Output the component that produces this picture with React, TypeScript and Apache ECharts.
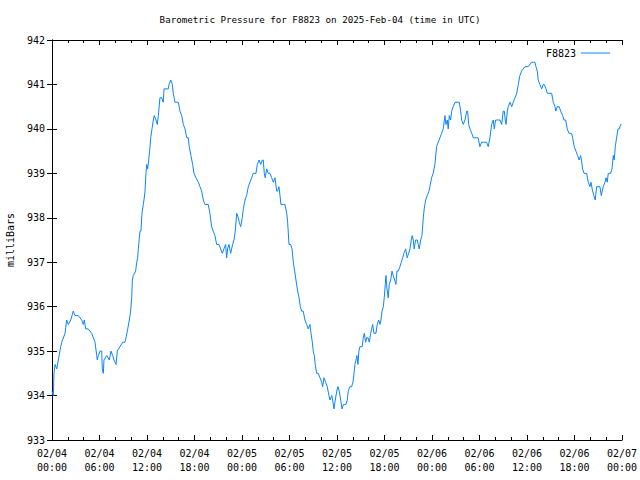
import React, { useEffect, useRef } from "react";
import * as echarts from "echarts";

// [minutes since 2025-02-04 00:00 UTC, pressure in milliBars]
const feb04: [number, number][] = [[0,934.1],[10,934.0],[15,934.5],[23,934.7],[36,934.6],[48,934.8],[66,935.1],[74,935.2],[99,935.4],[111,935.7],[124,935.6],[142,935.7],[161,935.9],[174,935.8],[199,935.8],[225,935.7],[237,935.6],[245,935.7],[255,935.5],[275,935.5],[301,935.4],[326,935.2],[339,934.9],[343,934.8],[351,934.9],[364,935.0],[377,935.0],[381,934.6],[389,934.5],[394,934.8],[415,934.9],[434,934.8],[447,935.0],[460,934.9],[470,934.8],[485,934.7],[495,935.0],[515,935.1],[536,935.2],[553,935.2],[561,935.3],[574,935.5],[586,935.7],[596,935.9],[604,936.2],[609,936.6],[616,936.7],[634,936.8],[642,937.0],[649,937.1],[657,937.4],[667,937.7],[674,937.7],[682,938.1],[692,938.3],[697,938.4],[705,938.6],[712,939.0],[718,939.2],[725,939.1],[733,939.3],[743,939.6],[748,939.8],[758,940.0],[768,940.2],[775,940.3],[788,940.2],[798,940.1],[806,940.3],[818,940.7],[831,940.7],[843,940.6],[849,940.9],[881,940.9],[887,941.0],[900,941.1],[912,941.0],[919,940.8],[932,940.6],[945,940.6],[957,940.6],[970,940.4],[983,940.3],[995,940.1],[1008,940.0],[1021,939.8],[1033,939.8],[1040,939.6],[1053,939.4],[1066,939.2],[1076,939.0],[1091,938.9],[1109,938.8],[1122,938.7],[1134,938.6],[1147,938.4],[1159,938.3],[1184,938.3],[1197,938.1],[1210,937.8],[1222,937.7],[1235,937.6],[1248,937.4],[1266,937.4],[1278,937.3],[1291,937.2],[1303,937.3],[1316,937.4],[1324,937.1],[1331,937.3],[1341,937.4],[1354,937.2],[1369,937.4],[1379,937.5],[1389,937.7],[1400,938.1],[1404,938.1],[1412,938.0],[1419,937.9],[1430,937.8]];

const feb05: [number, number][] = [[1442,938.0],[1450,938.2],[1463,938.4],[1475,938.5],[1488,938.7],[1500,938.8],[1513,938.9],[1525,939.0],[1546,939.0],[1556,939.2],[1569,939.3],[1582,939.2],[1594,939.3],[1601,939.3],[1609,939.0],[1616,938.9],[1627,939.1],[1639,939.0],[1652,939.0],[1665,938.9],[1677,938.8],[1690,938.9],[1703,938.6],[1710,938.6],[1720,938.7],[1728,938.5],[1735,938.3],[1753,938.3],[1766,938.3],[1779,938.1],[1786,937.9],[1796,937.4],[1809,937.4],[1819,937.3],[1829,937.0],[1839,936.8],[1849,936.6],[1859,936.4],[1872,936.2],[1882,936.0],[1892,935.9],[1904,935.9],[1917,935.7],[1930,935.6],[1942,935.5],[1955,935.6],[1963,935.4],[1973,935.2],[1980,935.0],[1988,934.9],[1995,934.7],[2006,934.5],[2018,934.5],[2031,934.4],[2044,934.3],[2051,934.2],[2061,934.4],[2074,934.3],[2086,934.2],[2099,934.0],[2107,933.9],[2120,934.0],[2127,933.9],[2137,933.7],[2147,933.9],[2158,934.1],[2167,934.2],[2177,934.1],[2188,933.9],[2198,933.7],[2208,933.8],[2218,933.8],[2228,933.8],[2238,933.9],[2245,934.1],[2258,934.2],[2271,934.2],[2281,934.3],[2289,934.5],[2296,934.7],[2304,934.8],[2311,934.9],[2319,934.7],[2326,935.0],[2334,935.1],[2351,935.1],[2359,935.3],[2367,935.4],[2377,935.2],[2385,935.3],[2395,935.3],[2405,935.2],[2415,935.4],[2423,935.5],[2430,935.6],[2440,935.4],[2455,935.4],[2465,935.6],[2476,935.7],[2486,935.6],[2493,935.7],[2501,935.9],[2511,936.0],[2518,936.2],[2526,936.5],[2531,936.7],[2539,936.4],[2548,936.2],[2556,936.5],[2567,936.6],[2577,936.8],[2586,936.7],[2597,936.6],[2607,936.5],[2614,936.8],[2624,936.8],[2637,936.9],[2647,937.0],[2658,937.1],[2667,937.2],[2680,937.3],[2692,937.1],[2703,937.2],[2713,937.3],[2723,937.5],[2730,937.6],[2738,937.5],[2745,937.3],[2756,937.5],[2768,937.5],[2776,937.4],[2783,937.3],[2794,937.5],[2804,937.6],[2814,938.0],[2821,938.2],[2832,938.4],[2844,938.5],[2857,938.6]];

const feb06: [number, number][] = [[2864,938.7],[2877,938.9],[2889,939.0],[2902,939.2],[2915,939.6],[2927,939.7],[2940,939.8],[2953,939.9],[2965,940.0],[2978,940.3],[2986,940.1],[2996,940.2],[3003,940.0],[3011,940.3],[3021,940.2],[3029,940.4],[3041,940.5],[3054,940.6],[3087,940.6],[3097,940.4],[3105,940.2],[3117,940.1],[3130,940.2],[3143,940.4],[3150,940.4],[3158,940.1],[3168,940.0],[3181,939.9],[3193,939.8],[3205,939.8],[3218,939.8],[3230,939.8],[3243,939.6],[3256,939.7],[3268,939.7],[3294,939.7],[3306,939.6],[3319,939.8],[3332,940.1],[3344,940.2],[3352,940.0],[3362,940.2],[3370,940.2],[3395,940.2],[3408,940.1],[3420,940.4],[3428,940.4],[3435,940.2],[3441,940.1],[3451,940.4],[3458,940.5],[3471,940.6],[3484,940.5],[3496,940.6],[3509,940.7],[3522,940.8],[3534,941.0],[3546,941.2],[3559,941.3],[3584,941.4],[3609,941.4],[3635,941.5],[3647,941.5],[3660,941.5],[3668,941.4],[3678,941.3],[3685,941.1],[3698,941.0],[3711,940.9],[3723,941.0],[3731,941.0],[3744,940.9],[3754,940.8],[3774,940.8],[3787,940.8],[3799,940.6],[3812,940.5],[3819,940.4],[3829,940.5],[3844,940.5],[3855,940.4],[3870,940.3],[3880,940.2],[3893,940.2],[3905,940.0],[3918,939.9],[3931,939.9],[3938,939.9],[3946,939.8],[3958,939.6],[3971,939.5],[3983,939.4],[3995,939.3],[4006,939.4],[4013,939.3],[4021,939.1],[4033,939.0],[4052,939.0],[4064,938.8],[4077,938.7],[4085,938.8],[4097,938.6],[4107,938.5],[4117,938.4],[4128,938.7],[4153,938.7],[4163,938.5],[4178,938.7],[4191,938.8],[4199,938.9],[4208,938.8],[4216,939.0],[4234,939.0],[4244,939.1],[4254,939.4],[4261,939.3],[4269,939.6],[4279,939.8],[4290,940.0],[4299,940.0],[4310,940.1],[4316,940.1]];

const seriesName = "F8823";
const titleText = "Barometric Pressure for F8823 on 2025-Feb-04 (time in UTC)";
const yName = "milliBars";
const yMin = 933;
const yMax = 942;
const xMin = 0;
const xMax = 4320;
const xStep = 360;

const FONT = "'DejaVu Sans Mono', 'Liberation Mono', monospace";

function fmtTime(v: number): string {
  const day = 4 + Math.floor(v / 1440);
  const mins = v % 1440;
  const hh = Math.floor(mins / 60);
  const mm = mins % 60;
  const p = (n: number) => (n < 10 ? "0" + n : "" + n);
  return "02/" + p(day) + "\n" + p(hh) + ":" + p(mm);
}

export default function App() {
  const ref = useRef<HTMLDivElement>(null);
  useEffect(() => {
    if (!ref.current) return;
    const chart = echarts.init(ref.current, undefined, { renderer: "svg" });
    const data = [...feb04, ...feb05, ...feb06];
    const axisLine = { show: true, lineStyle: { color: "#000", width: 1 } };
    const xBase = {
      type: "value" as const,
      min: xMin,
      max: xMax,
      interval: xStep,
      splitLine: { show: false },
      axisLine,
      axisTick: { show: true, inside: true, length: 5, lineStyle: { color: "#000" } },
      minorTick: { show: true, splitNumber: 3, length: 3, lineStyle: { color: "#000" } },
    };
    const yBase = {
      type: "value" as const,
      min: yMin,
      max: yMax,
      interval: 1,
      splitLine: { show: false },
      axisLine,
      axisTick: { show: true, inside: true, length: 5, lineStyle: { color: "#000" } },
    };
    chart.setOption({
      animation: false,
      backgroundColor: "#fff",
      textStyle: { fontFamily: FONT },
      title: {
        text: titleText,
        left: "center",
        top: 10,
        textStyle: { fontFamily: FONT, fontSize: 9.2, fontWeight: "normal", color: "#000" },
      },
      legend: {
        data: [seriesName],
        right: 25,
        top: 43,
        align: "right",
        icon: "rect",
        itemWidth: 29,
        itemHeight: 1,
        textStyle: { fontFamily: FONT, fontSize: 10, color: "#000" },
      },
      grid: {
        left: 52,
        right: 18,
        top: 40,
        bottom: 40,
        containLabel: false,
        outerBoundsMode: "none",
      },
      xAxis: [
        {
          ...xBase,
          position: "bottom",
          axisLabel: {
            show: true,
            formatter: fmtTime,
            fontFamily: FONT,
            fontSize: 10,
            lineHeight: 14,
            margin: 6,
            color: "#000",
          },
        },
        { ...xBase, position: "top", axisLabel: { show: false } },
      ],
      yAxis: [
        {
          ...yBase,
          position: "left",
          name: yName,
          nameLocation: "middle",
          nameGap: 37,
          nameRotate: 90,
          nameTextStyle: { fontFamily: FONT, fontSize: 10, color: "#000" },
          axisLabel: { show: true, fontFamily: FONT, fontSize: 10, margin: 7, color: "#000" },
        },
        { ...yBase, position: "right", axisLabel: { show: false } },
      ],
      series: [
        {
          name: seriesName,
          type: "line",
          data,
          symbol: "none",
          showSymbol: false,
          xAxisIndex: 0,
          yAxisIndex: 0,
          lineStyle: { color: "#0a84ff", width: 1 },
          itemStyle: { color: "#0a84ff" },
        },
      ],
    });
    return () => chart.dispose();
  }, []);
  return (
    <div
      ref={ref}
      style={{ position: "fixed", left: 0, top: 0, width: 640, height: 480 }}
    />
  );
}
